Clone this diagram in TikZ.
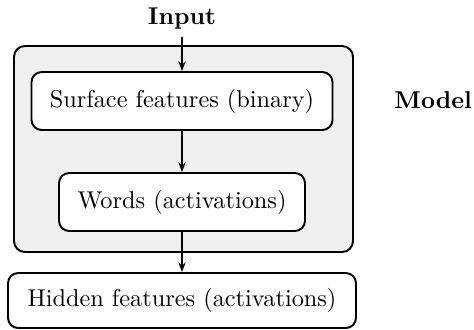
\documentclass[tikz,border=0pt]{standalone}
\usetikzlibrary{arrows.meta}
\definecolor{modelgray}{RGB}{239,239,239}
\begin{document}
\begin{tikzpicture}[x=0.4115pt,y=-0.4115pt,
  stage/.style={draw,line width=0.8pt,rounded corners=4.2pt,fill=white,
    inner sep=0pt,font=\fontsize{10}{12}\selectfont},
  flow/.style={line width=0.8pt,-{Stealth[length=4pt,width=3pt,inset=1.4pt]}},
  tag/.style={font=\fontsize{10}{12}\selectfont\bfseries,inner sep=0pt}]
\useasboundingbox (0,0) rectangle (474,329);
% model container
\draw[line width=0.8pt,rounded corners=4.5pt,fill=modelgray] (14,46) rectangle (353,252);
\node[tag] (input) at (182,19) {Input};
\node[tag,anchor=west] (model) at (394,100) {Model};
\node[stage,minimum width=301*0.4115pt,minimum height=58*0.4115pt] (surface) at (182,101) {Surface features (binary)};
\node[stage,minimum width=246*0.4115pt,minimum height=58*0.4115pt] (words) at (182,202) {Words (activations)};
\node[stage,minimum width=348*0.4115pt,minimum height=55*0.4115pt] (hidden) at (182,300.5) {Hidden features (activations)};
\draw[flow] ([yshift=-3pt]input.south) -- (surface.north);
\draw[flow] (surface) -- (words);
\draw[flow] (words) -- (hidden);
\end{tikzpicture}
\end{document}
